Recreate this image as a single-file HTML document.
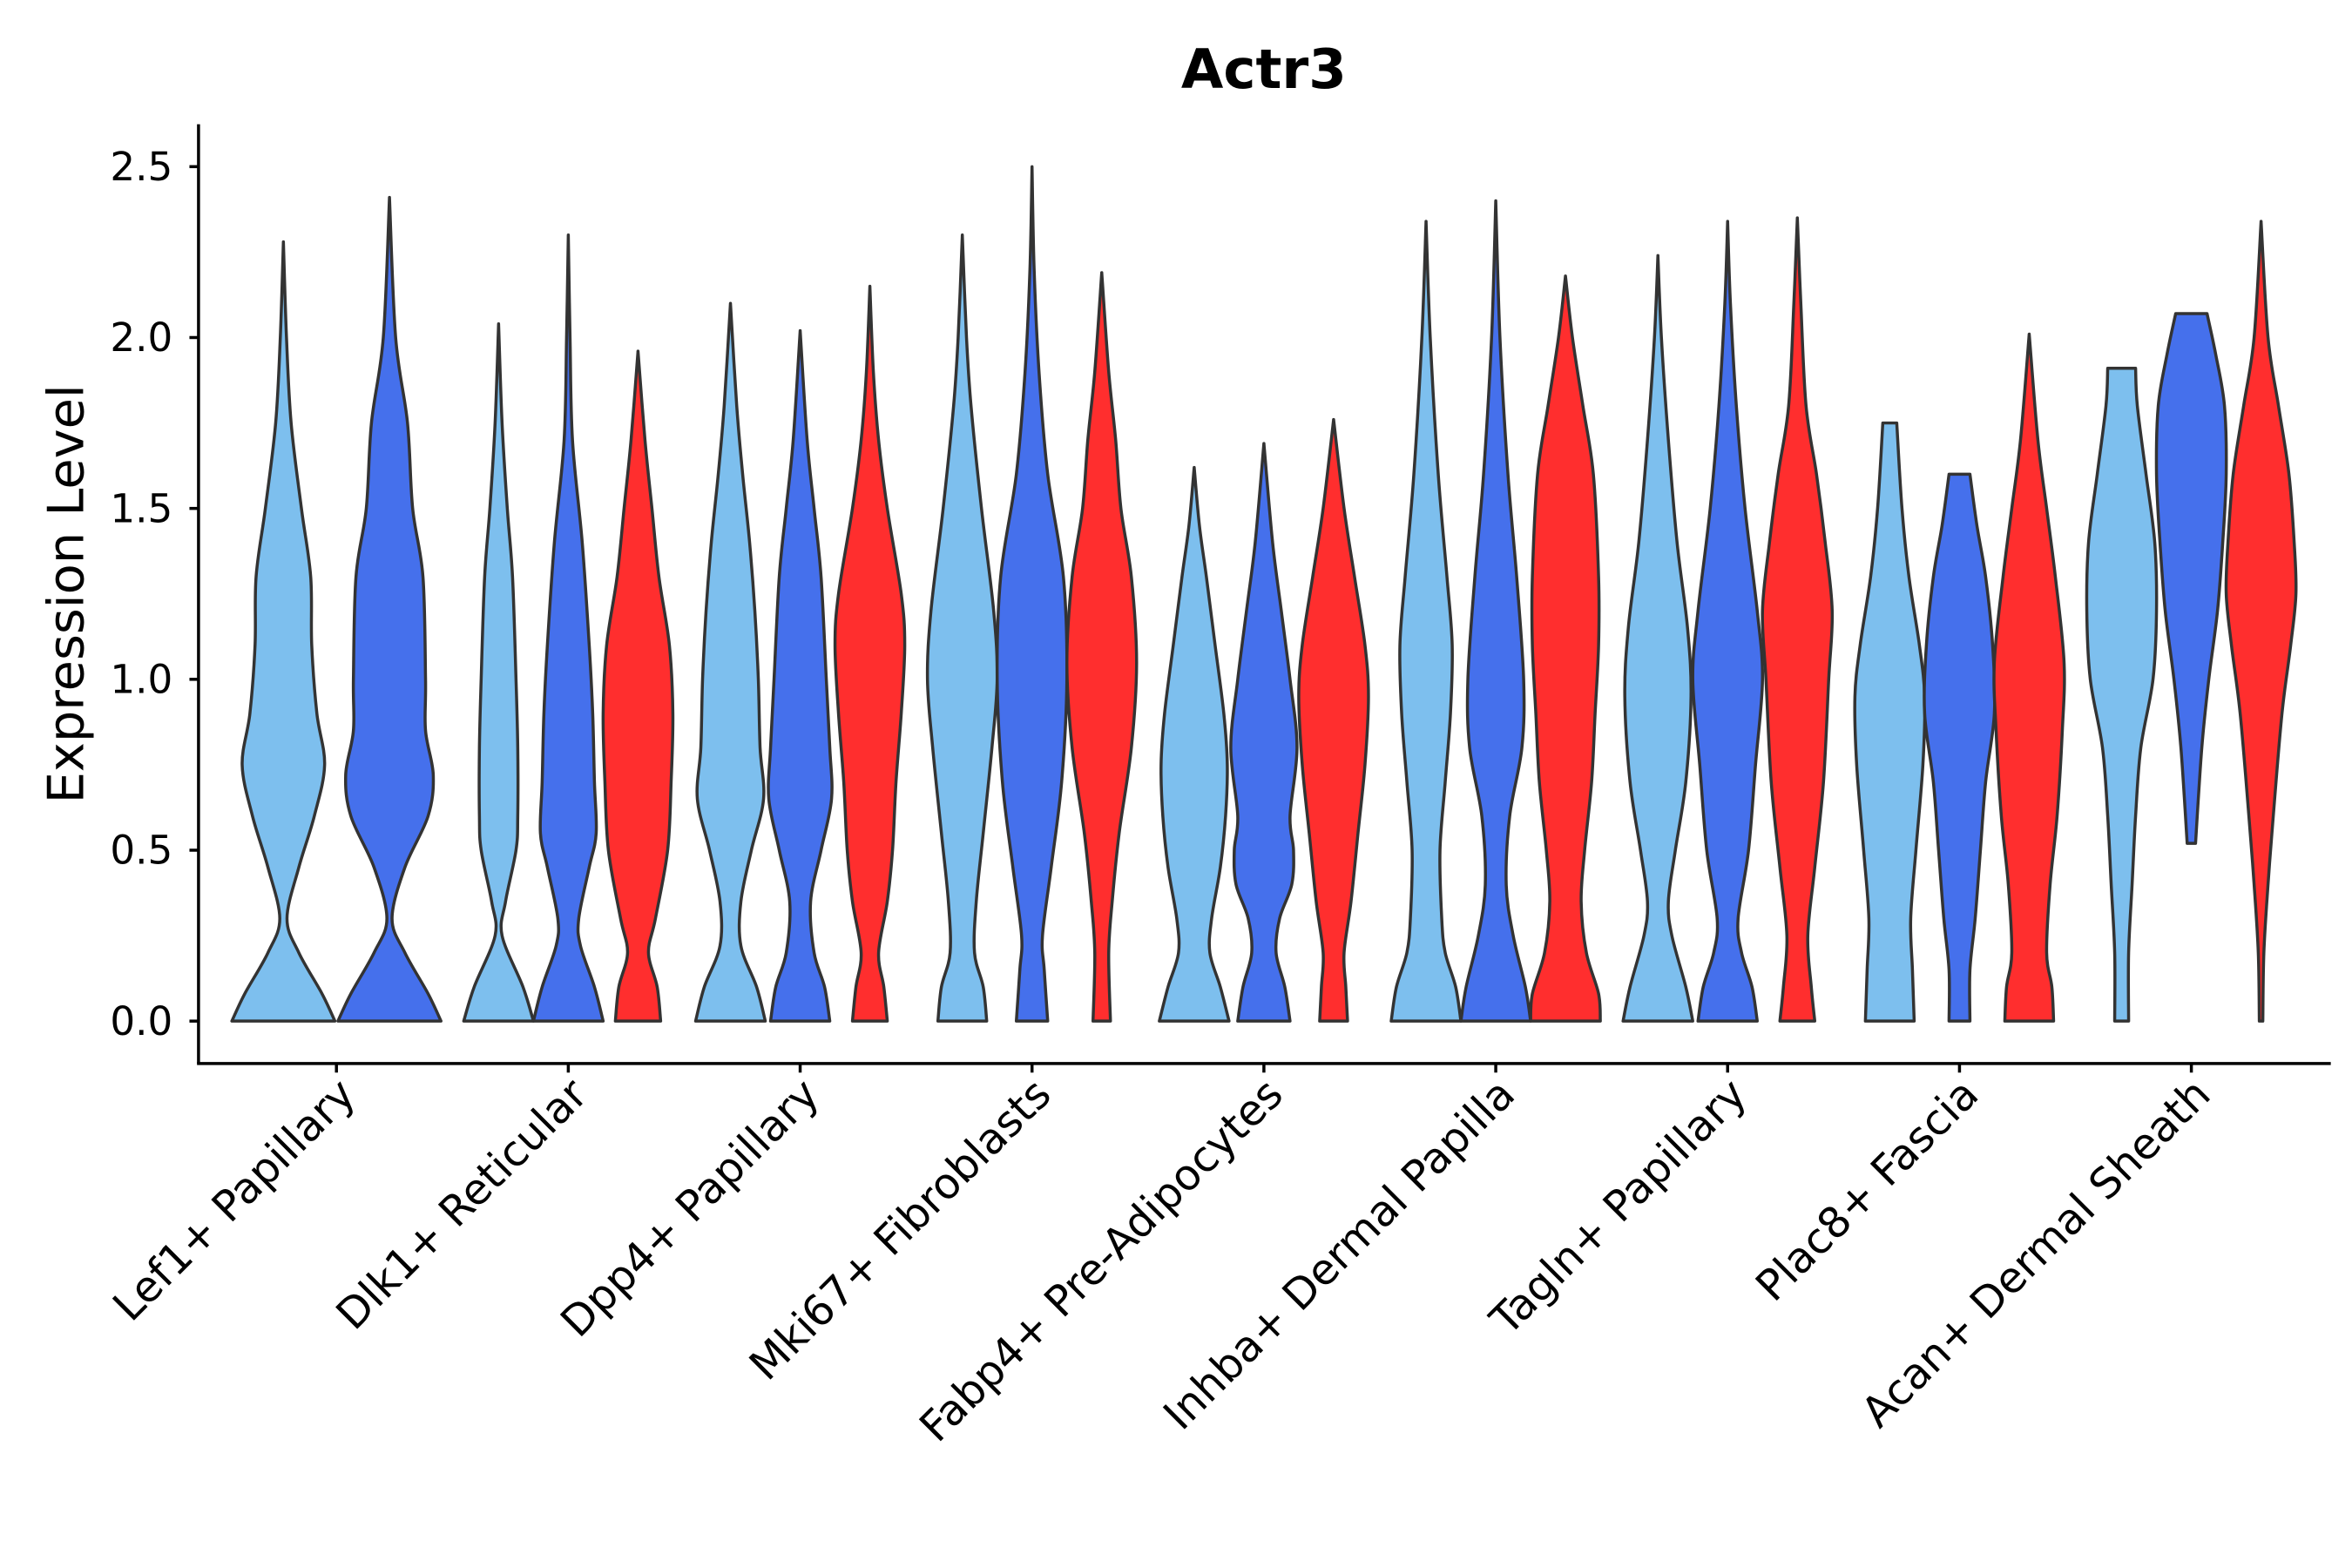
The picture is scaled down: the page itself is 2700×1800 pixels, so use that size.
<!DOCTYPE html>
<html><head><meta charset="utf-8"><style>
html,body{margin:0;padding:0;background:#fff;}
svg{display:block;font-family:"DejaVu Sans","Liberation Sans",sans-serif;}
</style></head><body>
<svg id="chart" width="2700" height="1800" viewBox="0 0 1552 1035" preserveAspectRatio="none" xmlns="http://www.w3.org/2000/svg">
<rect width="1552" height="1035" fill="#fff"/>
<text x="834" y="58" text-anchor="middle" font-size="36" font-weight="bold">Actr3</text>
<text transform="translate(55,392) rotate(-90)" text-anchor="middle" font-size="33">Expression Level</text>
<g id="axes"></g>
<g id="violins"></g>
</svg>
<script>
const categories=["Lef1+ Papillary","Dlk1+ Reticular","Dpp4+ Papillary","Mki67+ Fibroblasts","Fabp4+ Pre-Adipocytes","Inhba+ Dermal Papilla","Tagln+ Papillary","Plac8+ Fascia","Acan+ Dermal Sheath"];
const groups=["light","blue","red"];
const groupColors={light:"#7DBFEE",blue:"#4570EC",red:"#FF2E2E"};
const yTicks=[0,0.5,1,1.5,2,2.5];
const yTickLabels=["0.0","0.5","1.0","1.5","2.0","2.5"];
// violin density profiles per category: [group, [[value, relWidth],...]]
const lef1=[["light",[[0,1],[0.08,0.75],[0.2,0.3],[0.3,0.07],[0.45,0.3],[0.6,0.6],[0.75,0.8],[0.9,0.65],[1.1,0.55],[1.3,0.53],[1.5,0.35],[1.75,0.15],[2.0,0.06],[2.28,0]]],
 ["blue",[[0,1],[0.08,0.75],[0.2,0.3],[0.3,0.05],[0.45,0.3],[0.6,0.75],[0.72,0.85],[0.85,0.7],[1.0,0.7],[1.3,0.65],[1.5,0.45],[1.75,0.35],[2.0,0.12],[2.41,0]]]];
const dlk1=[["light",[[0,1],[0.1,0.7],[0.25,0.1],[0.35,0.2],[0.5,0.5],[0.6,0.55],[0.8,0.55],[1.0,0.5],[1.3,0.4],[1.5,0.25],[1.75,0.1],[2.04,0]]],
 ["blue",[[0,1],[0.1,0.75],[0.22,0.35],[0.3,0.3],[0.45,0.6],[0.55,0.8],[0.7,0.75],[0.9,0.7],[1.1,0.6],[1.4,0.4],[1.7,0.12],[2.0,0.05],[2.3,0]]],
 ["red",[[0,0.65],[0.1,0.55],[0.2,0.3],[0.3,0.5],[0.5,0.85],[0.7,0.95],[0.9,1.0],[1.1,0.9],[1.3,0.6],[1.5,0.4],[1.7,0.2],[1.96,0]]]];
const dpp4=[["light",[[0,1],[0.1,0.75],[0.22,0.3],[0.35,0.3],[0.5,0.6],[0.65,0.95],[0.8,0.85],[1.0,0.8],[1.2,0.7],[1.4,0.55],[1.6,0.35],[1.8,0.18],[2.1,0]]],
 ["blue",[[0,0.85],[0.1,0.7],[0.2,0.4],[0.35,0.3],[0.5,0.6],[0.65,0.9],[0.8,0.85],[1.0,0.75],[1.3,0.6],[1.5,0.4],[1.7,0.2],[2.02,0]]],
 ["red",[[0,0.5],[0.1,0.4],[0.2,0.25],[0.35,0.5],[0.5,0.65],[0.7,0.75],[0.9,0.9],[1.1,1.0],[1.25,0.9],[1.5,0.5],[1.7,0.25],[1.9,0.1],[2.15,0]]]];
const mki67=[["light",[[0,0.7],[0.1,0.6],[0.2,0.35],[0.35,0.4],[0.55,0.6],[0.8,0.85],[1.0,1.0],[1.2,0.9],[1.5,0.55],[1.8,0.25],[2.0,0.12],[2.3,0]]],
 ["blue",[[0,0.45],[0.15,0.35],[0.25,0.3],[0.45,0.55],[0.7,0.85],[1.0,1.0],[1.3,0.9],[1.6,0.45],[1.9,0.2],[2.2,0.06],[2.5,0]]],
 ["red",[[0,0.25],[0.2,0.2],[0.35,0.3],[0.55,0.5],[0.8,0.85],[1.05,1.0],[1.3,0.85],[1.5,0.55],[1.7,0.4],[1.9,0.2],[2.19,0]]]];
const fabp4=[["light",[[0,1],[0.1,0.75],[0.2,0.45],[0.3,0.5],[0.45,0.75],[0.6,0.9],[0.75,0.95],[0.9,0.85],[1.1,0.6],[1.3,0.35],[1.45,0.15],[1.62,0]]],
 ["blue",[[0,0.75],[0.1,0.6],[0.2,0.35],[0.3,0.45],[0.4,0.8],[0.5,0.85],[0.6,0.75],[0.8,0.95],[1.0,0.75],[1.2,0.5],[1.4,0.25],[1.69,0]]],
 ["red",[[0,0.4],[0.1,0.35],[0.2,0.3],[0.35,0.5],[0.55,0.7],[0.75,0.9],[0.95,1.0],[1.1,0.9],[1.3,0.6],[1.5,0.3],[1.76,0]]]];
const inhba=[["light",[[0,1],[0.1,0.85],[0.2,0.55],[0.3,0.45],[0.5,0.4],[0.7,0.55],[0.9,0.7],[1.1,0.75],[1.3,0.6],[1.6,0.35],[2.0,0.12],[2.34,0]]],
 ["blue",[[0,1],[0.1,0.85],[0.25,0.5],[0.4,0.3],[0.6,0.4],[0.8,0.75],[1.0,0.8],[1.3,0.6],[1.6,0.35],[2.0,0.12],[2.4,0]]],
 ["red",[[0,1],[0.08,0.95],[0.2,0.6],[0.35,0.45],[0.5,0.55],[0.7,0.75],[0.9,0.85],[1.1,0.95],[1.3,0.95],[1.6,0.8],[1.8,0.5],[2.0,0.2],[2.18,0]]]];
const tagln=[["light",[[0,1],[0.1,0.8],[0.25,0.4],[0.35,0.3],[0.5,0.5],[0.7,0.8],[0.95,0.95],[1.15,0.85],[1.4,0.55],[1.7,0.3],[2.0,0.1],[2.24,0]]],
 ["blue",[[0,0.85],[0.1,0.7],[0.2,0.4],[0.3,0.3],[0.5,0.6],[0.75,0.8],[1.0,1.0],[1.2,0.85],[1.5,0.5],[1.8,0.25],[2.1,0.08],[2.34,0]]],
 ["red",[[0,0.5],[0.1,0.4],[0.25,0.3],[0.45,0.5],[0.7,0.75],[1.0,0.9],[1.2,1.0],[1.4,0.8],[1.6,0.55],[1.8,0.25],[2.1,0.1],[2.35,0]]]];
const plac8=[["light",[[0,0.7],[0.15,0.65],[0.3,0.6],[0.5,0.75],[0.75,0.95],[0.95,1.0],[1.1,0.85],[1.3,0.55],[1.5,0.35],[1.75,0.2]]],
 ["blue",[[0,0.3],[0.15,0.3],[0.3,0.45],[0.5,0.6],[0.7,0.75],[0.9,1.0],[1.1,0.95],[1.3,0.75],[1.45,0.5],[1.6,0.3]]],
 ["red",[[0,0.7],[0.1,0.65],[0.2,0.5],[0.4,0.6],[0.6,0.8],[0.85,0.95],[1.05,1.0],[1.3,0.75],[1.5,0.5],[1.7,0.25],[2.01,0]]]];
const acan=[["light",[[0,0.2],[0.2,0.2],[0.4,0.3],[0.6,0.4],[0.8,0.55],[1.0,0.9],[1.2,1.0],[1.4,0.95],[1.6,0.7],[1.8,0.45],[1.91,0.4]]],
 ["blue",[[0.52,0.12],[0.8,0.3],[1.0,0.5],[1.2,0.75],[1.4,0.9],[1.6,1.0],[1.8,0.95],[1.95,0.7],[2.07,0.45]]],
 ["red",[[0,0.05],[0.2,0.08],[0.4,0.2],[0.6,0.35],[0.9,0.6],[1.1,0.85],[1.25,1.0],[1.4,0.95],[1.6,0.8],[1.8,0.5],[2.0,0.2],[2.34,0]]]];
const violinData=[lef1,dlk1,dpp4,mki67,fabp4,inhba,tagln,plac8,acan];

const NS="http://www.w3.org/2000/svg";
const X0=131,X1=1538,Y0=674,YPX=225.6,BOTTOM=702;
const xBand=i=>222+i*153.0;
const yScale=v=>Y0-v*YPX;
function mk(tag,attrs,parent){const e=document.createElementNS(NS,tag);for(const k in attrs)e.setAttribute(k,attrs[k]);parent.appendChild(e);return e;}
const axes=document.getElementById('axes');
const yl=mk('line',{x1:X0,y1:82,x2:X0,y2:BOTTOM,stroke:'#000','stroke-width':2},axes);


const xl=mk('line',{x1:X0-1,y1:BOTTOM,x2:X1,y2:BOTTOM,stroke:'#000','stroke-width':2},axes);


yTicks.forEach((v,i)=>{
  const y=yScale(v);
  const t=mk('line',{x1:X0-6,y1:y,x2:X0,y2:y,stroke:'#000','stroke-width':2},axes);
  
  
  const tx=mk('text',{x:X0-17,y:y+9,'text-anchor':'end','font-size':26},axes);
  tx.textContent=yTickLabels[i];
  
  
});
categories.forEach((c,i)=>{
  const x=xBand(i);
  const t=mk('line',{x1:x,y1:BOTTOM,x2:x,y2:BOTTOM+6,stroke:'#000','stroke-width':2},axes);
  
  
  const tx=mk('text',{'text-anchor':'end','font-size':28,transform:`translate(${x+14},${BOTTOM+22}) rotate(-45)`},axes);
  tx.textContent=c;
  
  
});
function crPath(pts){
  let d='';
  for(let i=0;i<pts.length-1;i++){
    const p0=pts[Math.max(0,i-1)],p1=pts[i],p2=pts[i+1],p3=pts[Math.min(pts.length-1,i+2)];
    const c1=[p1[0]+(p2[0]-p0[0])/6,p1[1]+(p2[1]-p0[1])/6];
    const c2=[p2[0]-(p3[0]-p1[0])/6,p2[1]-(p3[1]-p1[1])/6];
    d+=` C${c1[0].toFixed(2)},${c1[1].toFixed(2)} ${c2[0].toFixed(2)},${c2[1].toFixed(2)} ${p2[0].toFixed(2)},${p2[1].toFixed(2)}`;
  }
  return d;
}
const vg=document.getElementById('violins');
violinData.forEach((vs,i)=>{
  const n=vs.length;
  const step=n===2?70:46, hw=n===2?34:23;
  vs.forEach((v,j)=>{
    const cx=xBand(i)+(j-(n-1)/2)*step;
    const prof=v[1];
    const right=prof.map(p=>[cx+p[1]*hw,yScale(p[0])]);
    const left=prof.slice().reverse().map(p=>[cx-p[1]*hw,yScale(p[0])]);
    let d=`M${right[0][0]},${right[0][1]}`+crPath(right)+` L${left[0][0]},${left[0][1]}`+crPath(left)+' Z';
    const p=mk('path',{d:d,fill:groupColors[v[0]],stroke:'#333','stroke-width':2,'stroke-linejoin':'round'},vg);
    
    
  });
});
</script>
</body></html>
